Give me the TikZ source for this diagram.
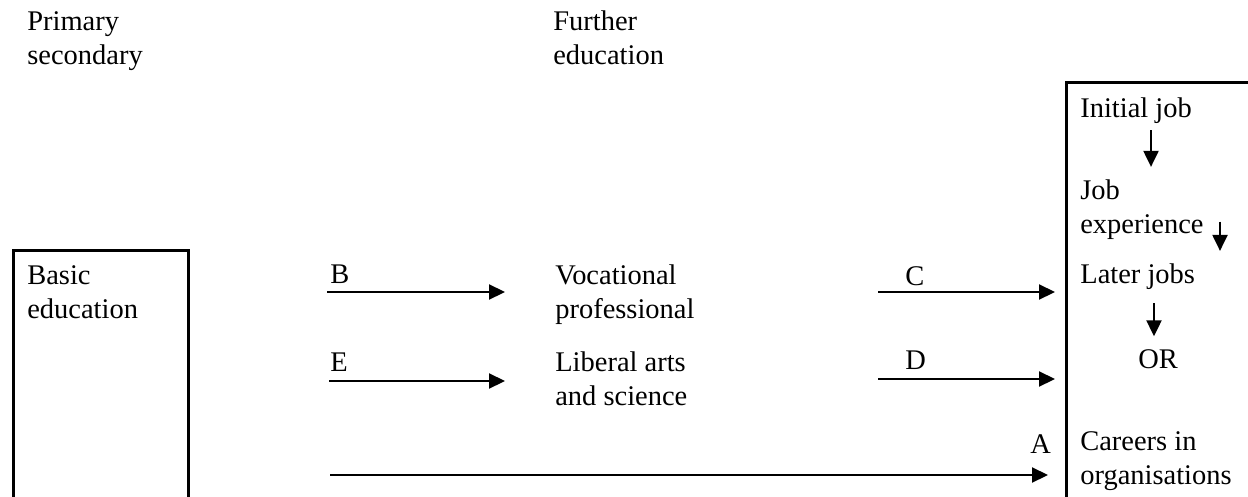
\documentclass[tikz,border=0pt]{standalone}
\usepackage{fontspec}
\setmainfont{Liberation Serif}
\usetikzlibrary{positioning,arrows.meta}

\begin{document}
\begin{tikzpicture}[x=0.02cm, y=-0.02cm,
    txt/.style={anchor=base west, inner sep=0pt, align=left, font=\fontsize{16.2}{18.8}\selectfont},
    box/.style={draw, line width=1.5pt, inner sep=0pt, anchor=north west},
    flow/.style={-{Triangle[length=0.32cm, width=0.3cm]}, line width=1.2pt}
]
\useasboundingbox (0,0) rectangle (1248,497);
\clip (0,0) rectangle (1248,497);

% column headings (base = last line)
\node[txt] (primary) at (27,64) {Primary\\secondary};
\node[txt] (further) at (553,64) {Further\\education};

% the two boxes (both run off the bottom)
\node[box, minimum width=3.5cm, minimum height=6cm] (school) at (12,249) {};
\node[box, minimum width=5cm, minimum height=10cm] (work) at (1065,81) {};

% Basic education
\node[txt] (basic) at (27,318) {Basic\\education};

% Further education routes
\node[txt] (voc) at (555,318) {Vocational\\professional};
\node[txt] (lib) at (555,405) {Liberal arts\\and science};

% route letters
\node[txt] (lb) at (330,283) {B};
\node[txt] (le) at (330,371) {E};
\node[txt] (lc) at (905,285) {C};
\node[txt] (ld) at (905,369) {D};
\node[txt] (la) at (1030,453) {A};

% inside the work box
\node[txt] (init) at (1080,117) {Initial job};
\node[txt] (jobexp) at (1080,233) {Job\\experience};
\node[txt] (later) at (1080,283) {Later jobs};
\node[txt] (or) at (1138,368) {OR};
\node[txt] (careers) at (1080,484) {Careers in\\organisations};

% start points of the routes
\coordinate (b-from) at (327,292);
\coordinate (e-from) at (329,381);
\coordinate (c-from) at (878,292);
\coordinate (d-from) at (878,379);
\coordinate (a-from) at (330,475);

% horizontal routes
\draw[flow] (b-from) -- ([xshift=-1cm]voc.west |- b-from);
\draw[flow] (e-from) -- ([xshift=-1cm]lib.west |- e-from);
\draw[flow] (c-from) -- ([xshift=-0.2cm]work.west |- c-from);
\draw[flow] (d-from) -- ([xshift=-0.2cm]work.west |- d-from);
\draw[flow] (a-from) -- ([xshift=-0.34cm]work.west |- a-from);

% steps inside the work box
\coordinate (v1) at (1151,0);
\coordinate (v2) at (1220,0);
\coordinate (v3) at (1154,0);
\draw[flow, shorten <=0.14cm, shorten >=0.26cm] (init.south -| v1) -- (jobexp.north -| v1);
\draw[flow, shorten >=0.24cm] ([yshift=-0.24cm]jobexp.east -| v2) -- (later.north -| v2);
\draw[flow, shorten <=0.28cm, shorten >=0.25cm] (later.south -| v3) -- (or.north -| v3);

\end{tikzpicture}
\end{document}
